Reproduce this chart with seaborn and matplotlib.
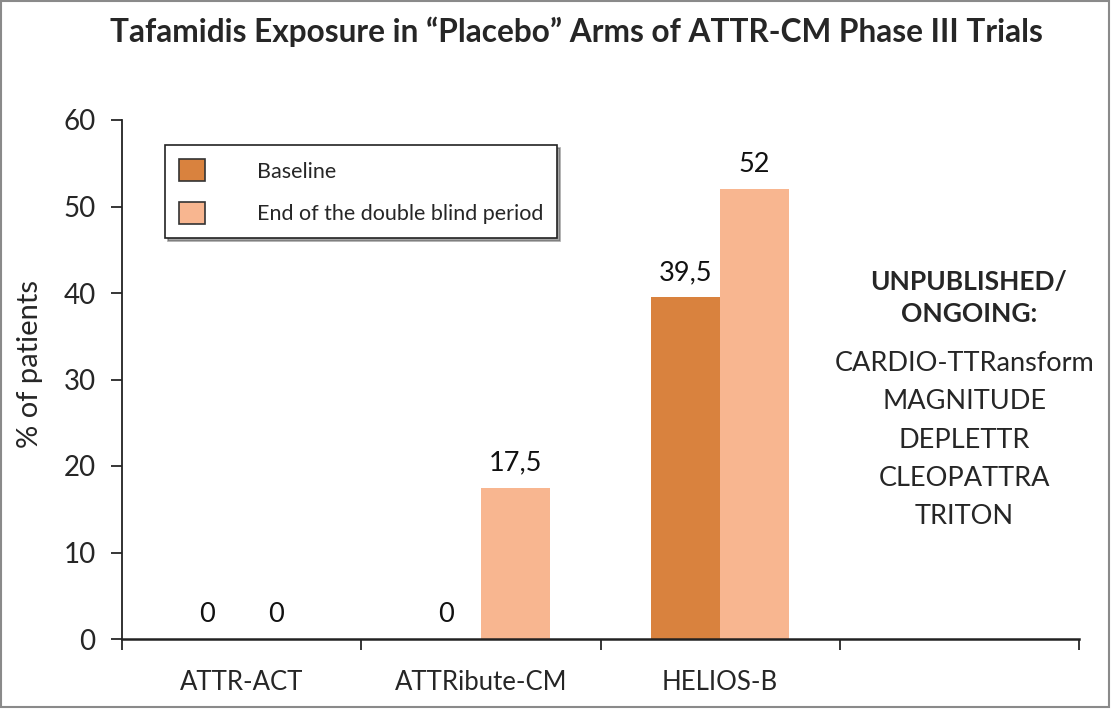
import matplotlib
matplotlib.use("Agg")
import matplotlib.pyplot as plt
import matplotlib.patches as mpatches
import seaborn as sns
import pandas as pd

trials = ['ATTR-ACT', 'ATTRibute-CM', 'HELIOS-B']
baseline = [0, 0, 39.5]
end_of_period = [0, 17.5, 52]
series_names = ['Baseline', 'End of the double blind period']
unpublished = ['CARDIO-TTRansform', 'MAGNITUDE', 'DEPLETTR', 'CLEOPATTRA', 'TRITON']
y_ticks = [0, 10, 20, 30, 40, 50, 60]

colors = ['#D9823E', '#F8B690']

df = pd.DataFrame({
    'Trial': trials * 2,
    'Value': baseline + end_of_period,
    'Period': [series_names[0]] * 3 + [series_names[1]] * 3,
})

sns.set_style("white")
plt.rcParams['font.family'] = ['Lato', 'DejaVu Sans']

fig = plt.figure(figsize=(11.11, 7.09), dpi=100)
ax = fig.add_axes([122 / 1111, 70 / 709, 957 / 1111, 519 / 709])

sns.barplot(data=df, x='Trial', y='Value', hue='Period', order=trials,
            hue_order=series_names, palette=colors, width=0.578, gap=0,
            linewidth=0, saturation=1, ax=ax, legend=False)

for cont in ax.containers:
    labels = [f'{v:g}'.replace('.', ',') for v in cont.datavalues]
    ax.bar_label(cont, labels=labels, padding=9, fontsize=19.5, color='#111111')

ax.set_xlim(-0.5, 3.5)
ax.set_ylim(0, 60)
ax.set_yticks(y_ticks)
ax.tick_params(axis='y', labelsize=20, length=8, width=1.3, direction='out', left=True, pad=11)
ax.set_xticks(range(len(trials)))
ax.set_xticklabels(trials, fontsize=18.5)
ax.set_xticks([-0.5, 0.5, 1.5, 2.5, 3.5], minor=True)
ax.tick_params(axis='x', which='major', length=0, pad=22)
ax.tick_params(axis='x', which='minor', length=8, width=1.3, direction='out', bottom=True)
for side in ['top', 'right']:
    ax.spines[side].set_visible(False)
ax.spines['left'].set_linewidth(1.3)
ax.spines['bottom'].set_linewidth(1.8)
ax.spines['left'].set_color('#222222')
ax.spines['bottom'].set_color('#222222')
ax.set_xlabel('')
ax.set_ylabel('% of patients', fontsize=21)
ax.yaxis.set_label_coords(-0.083, 0.53)

handles = [mpatches.Patch(facecolor=c, edgecolor='#333333', linewidth=1.2) for c in colors]
leg = ax.legend(handles, series_names, loc='upper left', bbox_to_anchor=(0.045, 0.951),
                fontsize=15.5, frameon=True, fancybox=False, shadow=True,
                handlelength=1.2, handleheight=1.2, handletextpad=2.4,
                labelspacing=0.95, borderpad=0.65, borderaxespad=0)
leg.get_frame().set_edgecolor('#222222')
leg.get_frame().set_linewidth(1.2)

ax.text(3.04, 41.3, 'UNPUBLISHED/', ha='center', va='center', fontsize=19, fontweight='bold')
ax.text(3.04, 37.6, 'ONGOING:', ha='center', va='center', fontsize=19, fontweight='bold')
for i, name in enumerate(unpublished):
    ax.text(3.02, 31.8 - i * 4.4, name, ha='center', va='center', fontsize=19.5)

fig.suptitle('Tafamidis Exposure in \u201cPlacebo\u201d Arms of ATTR-CM Phase III Trials',
             x=0.5185, y=0.977, fontsize=22.8, fontweight='bold')

fig.patches.append(mpatches.Rectangle((0.001, 0.003), 0.997, 0.995, transform=fig.transFigure,
                                      fill=False, edgecolor='#8a8a8a', linewidth=1.5))

fig.savefig('out.png', dpi=100)
